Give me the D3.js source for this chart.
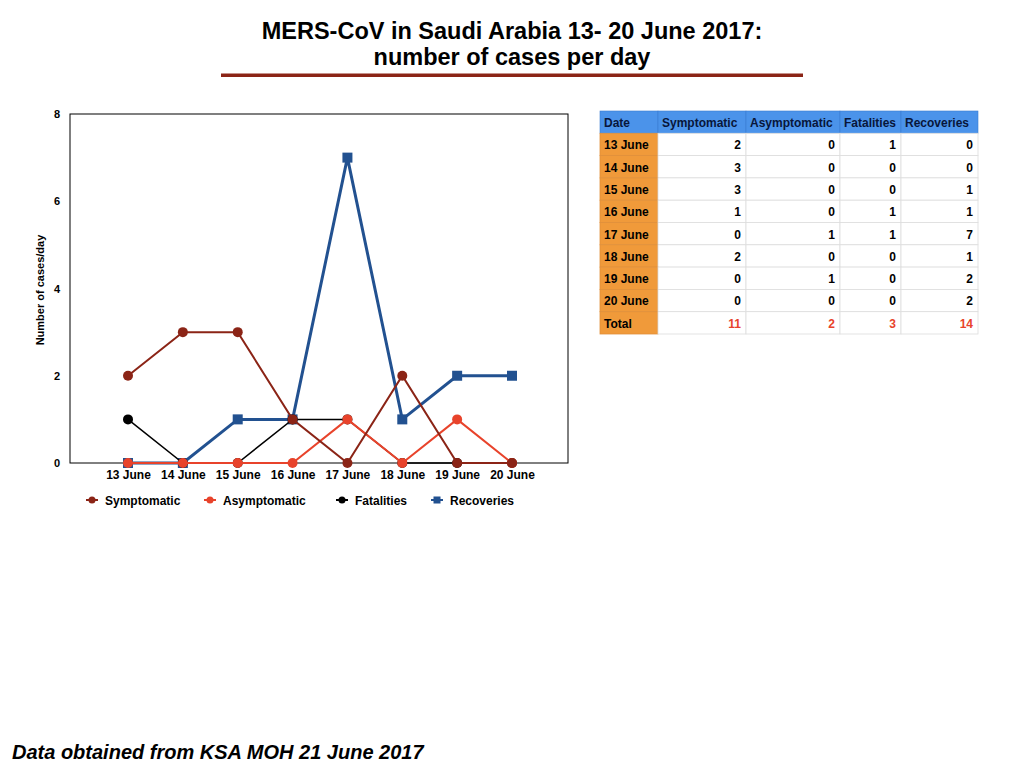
<!DOCTYPE html>
<html><head><meta charset="utf-8">
<script src="https://cdn.jsdelivr.net/npm/d3@7/dist/d3.min.js"></script>
<style>
body{margin:0;background:#fff;}
svg{display:block;font-family:"Liberation Sans",Arial,sans-serif;}
</style></head>
<body>
<svg id="c" width="1024" height="768"></svg>
<script>
const dates = ["13 June","14 June","15 June","16 June","17 June","18 June","19 June","20 June"];
const symptomatic = [2,3,3,1,0,2,0,0];
const asymptomatic = [0,0,0,0,1,0,1,0];
const fatalities = [1,0,0,1,1,0,0,0];
const recoveries = [0,0,1,1,7,1,2,2];
const seriesNames = ["Symptomatic","Asymptomatic","Fatalities","Recoveries"];
const yTicks = [0,2,4,6,8];
const totalLabel = "Total";

const colors = {Symptomatic:"#8b2416",Asymptomatic:"#e8432b",Fatalities:"#000000",Recoveries:"#225190"};
const widths = {Symptomatic:2,Asymptomatic:2,Fatalities:1.5,Recoveries:3};
const seriesData = {Symptomatic:symptomatic,Asymptomatic:asymptomatic,Fatalities:fatalities,Recoveries:recoveries};

const svg = d3.select("#c");

// Title
svg.append("text").attr("x",512).attr("y",38.5).attr("text-anchor","middle")
  .attr("font-size",23.5).attr("font-weight","bold").text("MERS-CoV in Saudi Arabia 13- 20 June 2017:");
svg.append("text").attr("x",512).attr("y",65).attr("text-anchor","middle")
  .attr("font-size",23.5).attr("font-weight","bold").text("number of cases per day");
svg.append("rect").attr("x",221).attr("y",73.5).attr("width",582).attr("height",3.5).attr("fill","#8b2416");

// Chart
const L=70,R=568,T=114,B=463;
const x = d3.scalePoint().domain(dates).range([128,512]);
const y = d3.scaleLinear().domain([0,8]).range([B,T]);

svg.append("rect").attr("x",L).attr("y",T).attr("width",R-L).attr("height",B-T)
  .attr("fill","none").attr("stroke","#000").attr("stroke-width",1);

const yAxis = svg.append("g").attr("transform",`translate(${L},0)`)
  .call(d3.axisLeft(y).tickValues(yTicks).tickSize(0).tickPadding(10).tickFormat(d3.format("d")));
yAxis.select(".domain").remove();
yAxis.selectAll("text").attr("font-size",11).attr("font-weight","bold").attr("font-family","Liberation Sans, Arial, sans-serif").attr("fill","#000");

const xAxis = svg.append("g").attr("transform",`translate(0,${B})`)
  .call(d3.axisBottom(x).tickSize(0).tickPadding(7));
xAxis.select(".domain").remove();
xAxis.selectAll("text").attr("font-size",12).attr("font-weight","bold").attr("font-family","Liberation Sans, Arial, sans-serif").attr("fill","#000");

svg.append("text").attr("transform","translate(44,290) rotate(-90)").attr("text-anchor","middle")
  .attr("font-size",11).attr("font-weight","bold").text("Number of cases/day");

const line = d3.line().x((d,i)=>x(dates[i])).y(d=>y(d));
const drawOrder = ["Recoveries","Fatalities","Asymptomatic","Symptomatic"];
drawOrder.forEach(name=>{
  const vals = seriesData[name];
  const g = svg.append("g");
  g.append("path").datum(vals).attr("d",line).attr("fill","none")
    .attr("stroke",colors[name]).attr("stroke-width",widths[name]).attr("stroke-linejoin","miter");
  if(name==="Recoveries"){
    g.selectAll("rect").data(vals).join("rect")
      .attr("x",(d,i)=>x(dates[i])-5).attr("y",d=>y(d)-5).attr("width",10).attr("height",10)
      .attr("fill",colors[name]);
  } else {
    g.selectAll("circle").data(vals).join("circle")
      .attr("cx",(d,i)=>x(dates[i])).attr("cy",d=>y(d)).attr("r",5).attr("fill",colors[name]);
  }
});

// Legend
const legendX = [92,210,342,437];
seriesNames.forEach((name,i)=>{
  const g = svg.append("g").attr("transform",`translate(${legendX[i]},500)`);
  g.append("line").attr("x1",-6).attr("x2",6).attr("y1",0).attr("y2",0).attr("stroke",colors[name]).attr("stroke-width",2);
  if(name==="Recoveries") g.append("rect").attr("x",-3.5).attr("y",-3.5).attr("width",7).attr("height",7).attr("fill",colors[name]);
  else g.append("circle").attr("r",3.5).attr("fill",colors[name]);
  g.append("text").attr("x",13).attr("y",4.5).attr("font-size",12).attr("font-weight","bold").text(name);
});

// Table
const colX = [600,658,746,840,901,978];
const rowH = 22.3, tTop = 111;
const header = ["Date"].concat(seriesNames);
const totals = seriesNames.map(n=>d3.sum(seriesData[n]));
const tg = svg.append("g");
header.forEach((h,j)=>{
  tg.append("rect").attr("x",colX[j]).attr("y",tTop).attr("width",colX[j+1]-colX[j]).attr("height",rowH)
    .attr("fill","#4b93ea").attr("stroke","#3a7cd0").attr("stroke-width",0.6);
  tg.append("text").attr("x",colX[j]+4).attr("y",tTop+15.5).attr("font-size",12).attr("font-weight","bold")
    .attr("fill","#08163a").text(h);
});
const rows = dates.map((d,i)=>[d].concat(seriesNames.map(n=>seriesData[n][i])));
rows.push([totalLabel].concat(totals));
rows.forEach((r,i)=>{
  const yy = tTop + rowH*(i+1);
  r.forEach((v,j)=>{
    tg.append("rect").attr("x",colX[j]).attr("y",yy).attr("width",colX[j+1]-colX[j]).attr("height",rowH)
      .attr("fill", j===0 ? "#f09a3a" : "#fff")
      .attr("stroke", j===0 ? "#e0903a" : "#dddddd").attr("stroke-width",0.8);
    const isTotal = i===rows.length-1;
    tg.append("text")
      .attr("x", j===0 ? colX[j]+4 : colX[j+1]-5)
      .attr("y", yy+16)
      .attr("text-anchor", j===0 ? "start":"end")
      .attr("font-size",12).attr("font-weight","bold")
      .attr("fill", (isTotal && j>0) ? "#e8432b" : "#000").text(v);
  });
});

// Footnote
svg.append("text").attr("x",12).attr("y",759).attr("font-size",20).attr("font-weight","bold")
  .attr("font-style","italic").text("Data obtained from KSA MOH 21 June 2017");
</script>
</body></html>
